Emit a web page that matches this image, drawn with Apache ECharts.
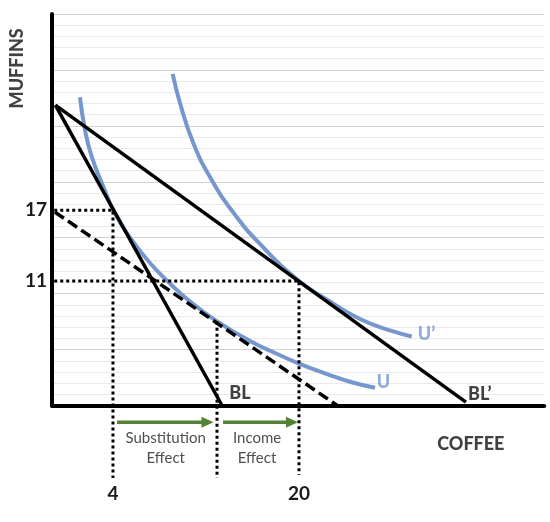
<!DOCTYPE html>
<html><head><meta charset="utf-8">
<script src="https://cdn.jsdelivr.net/npm/echarts@6/dist/echarts.min.js"></script>
<style>html,body{margin:0;padding:0;background:#fff}#c{width:550px;height:522px}</style>
</head><body><div id="c"></div>
<script>
// ---- data (chart units: one unit = one light gridline step) ----
const curveU = [[2.50,27.55],[2.95,24.63],[3.55,22.24],[4.59,19.56],[5.63,17.18],[7.13,14.80],[8.76,12.74],[10.55,10.91],[12.34,9.30],[14.72,7.55],[17.70,5.77],[19.94,4.69],[22.08,3.75],[24.41,2.88],[26.79,2.08],[28.88,1.59]];
const curveU2 = [[10.79,29.64],[11.44,27.04],[12.63,23.47],[14.12,20.43],[16.21,17.25],[18.59,14.44],[22.08,11.13],[24.56,9.48],[27.53,7.73],[30.51,6.62],[32.16,6.17]];
const budgetBL = [[0.3,26.85],[15.2,0]];
const budgetBL2 = [[0.3,26.85],[37.0,0.3]];
const compensatedBL = [[0.25,17.3],[25.5,0]];
const dottedA = [[0.2,17.45],[5.45,17.45],[5.45,-6.48]];
const dottedB = [[0.2,11.13],[22.08,11.13],[22.08,-6.21]];
const dottedC = [[14.75,7.49],[14.75,-6.48]];
const arrowSubstitution = [[5.81,-1.5],[13.90,-1.5]];
const arrowIncome = [[15.29,-1.5],[21.45,-1.5]];
const yTickValues = [11.13, 17.45];
const yTickLabels = ['11', '17'];
const xTickValues = [5.45, 22.08];
const xTickLabels = ['4', '20'];
const curveLabels = [['U', 29.63, 2.10], ['U\u2019', 33.48, 6.42]];
const lineLabels = [['BL', 16.81, 1.07], ['BL\u2019', 38.24, 1.05]];
const effectLabels = [['Substitution\nEffect', 10.16, -3.77], ['Income\nEffect', 18.33, -3.77]];
const axisTitles = [['COFFEE', 37.44, -3.50, 0], ['MUFFINS', -3.10, 30.14, 90]];

const FONT = 'Lato';
const BLUE = '#7597cd';
const GREEN = '#548235';
const tickMap = (vals, labs) => v => { const i = vals.findIndex(t => Math.abs(t - v) < 1e-6); return i >= 0 ? labs[i] : ''; };

const chart = echarts.init(document.getElementById('c'));
const lineSeries = (data, style, z, smooth) => ({
  type: 'line', data, showSymbol: false, symbol: 'none', clip: false, silent: true, z: z || 2,
  smooth: smooth || false,
  lineStyle: Object.assign({ color: '#000', width: 3.5, cap: 'butt' }, style), animation: false
});
const arrowSeries = (pts) => ({
  type: 'line', clip: false, silent: true, z: 4, animation: false,
  lineStyle: { color: GREEN, width: 3.5, cap: 'butt' },
  itemStyle: { color: GREEN },
  showSymbol: true, showAllSymbol: true,
  data: [
    { value: pts[0], symbol: 'none' },
    { value: pts[1], symbol: 'triangle', symbolSize: [11, 12], symbolRotate: -90 }
  ]
});
const textSeries = (items, labelStyle) => ({
  type: 'scatter', symbolSize: 0, clip: false, silent: true, z: 10, animation: false,
  data: items.map(it => ({ value: [it[1], it[2]], name: it[0], label: Object.assign({ rotate: it[3] || 0 }, labelStyle) })),
  label: Object.assign({ show: true, position: 'inside', formatter: p => p.name, fontFamily: FONT, align: 'center', verticalAlign: 'middle', textBorderWidth: 0 }, labelStyle)
});

chart.setOption({
  animation: false,
  grid: { left: 52, top: 14, width: 492.2, height: 391.5, containLabel: false },
  xAxis: {
    type: 'value', min: 0, max: 44,
    axisLine: { show: true, onZero: false, lineStyle: { color: '#000', width: 4 } },
    axisTick: { show: false }, splitLine: { show: false },
    axisLabel: { customValues: xTickValues, formatter: tickMap(xTickValues, xTickLabels), margin: 79, fontSize: 19, fontWeight: 'bold', color: '#1a1a1a', fontFamily: FONT }
  },
  yAxis: {
    type: 'value', min: 0, max: 35, interval: 1,
    axisLine: { show: true, onZero: false, lineStyle: { color: '#000', width: 4 } },
    axisTick: { show: false },
    splitLine: { show: true, lineStyle: { width: 1, color: ['#d2d2d2', '#e9e9e9', '#e9e9e9', '#e9e9e9', '#e9e9e9'] } },
    axisLabel: { customValues: yTickValues, formatter: tickMap(yTickValues, yTickLabels), margin: 5, fontSize: 19, fontWeight: 'bold', color: '#1a1a1a', fontFamily: FONT }
  },
  series: [
    lineSeries(curveU, { color: BLUE, width: 4 }, 2, 0.5),
    lineSeries(curveU2, { color: BLUE, width: 4 }, 2, 0.5),
    lineSeries(budgetBL, {}, 3),
    lineSeries(budgetBL2, {}, 3),
    lineSeries(compensatedBL, { type: [11, 5] }, 3),
    lineSeries(dottedA, { type: [3, 3], width: 3 }, 3),
    lineSeries(dottedB, { type: [3, 3], width: 3 }, 3),
    lineSeries(dottedC, { type: [3, 3], width: 3 }, 3),
    arrowSeries(arrowSubstitution),
    arrowSeries(arrowIncome),
    textSeries(curveLabels, { fontSize: 18, fontWeight: 900, color: BLUE }),
    textSeries(lineLabels, { fontSize: 18, fontWeight: 900, color: '#111' }),
    textSeries(effectLabels, { fontSize: 15, color: '#222', lineHeight: 20 }),
    textSeries(axisTitles, { fontSize: 18, fontWeight: 900, color: '#111' })
  ]
});
</script>
</body></html>
